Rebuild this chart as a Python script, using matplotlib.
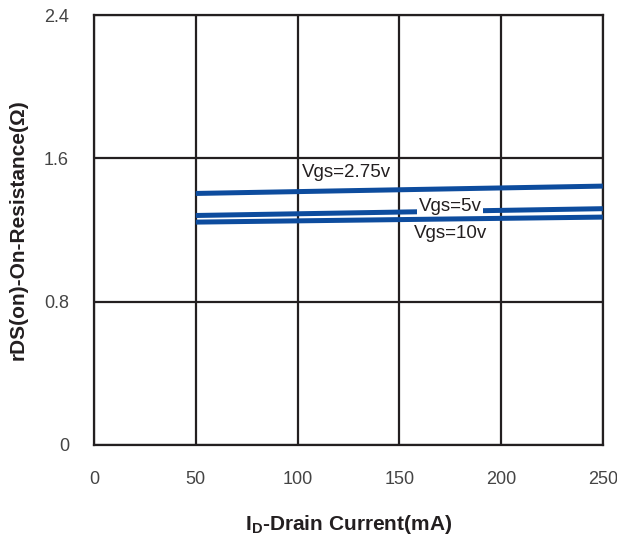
import matplotlib
matplotlib.use("Agg")
import matplotlib.pyplot as plt

plt.rcParams['font.family'] = ['Liberation Sans', 'DejaVu Sans']
plt.rcParams['mathtext.fontset'] = 'custom'
plt.rcParams['mathtext.rm'] = 'Liberation Sans'
plt.rcParams['mathtext.bf'] = 'Liberation Sans:bold'

current = [50, 250]
vgs_275 = [1.404, 1.445]
vgs_5 = [1.281, 1.319]
vgs_10 = [1.244, 1.272]
xticks = [0, 50, 100, 150, 200, 250]
yticks = [0, 0.8, 1.6, 2.4]
ytick_labels = ["0", "0.8", "1.6", "2.4"]

fig = plt.figure(figsize=(6.17, 5.36), dpi=100)
ax = fig.add_axes([0.1524, 0.1698, 0.8246, 0.8022])
ax.set_xlim(0, 250)
ax.set_ylim(0, 2.4)

blue = '#0d4c9e'
grid_c = '#231f20'
ax.plot(current, vgs_275, color=blue, lw=3.6, solid_capstyle='butt', zorder=3)
ax.plot(current, vgs_5, color=blue, lw=3.6, solid_capstyle='butt', zorder=3)
ax.plot(current, vgs_10, color=blue, lw=3.6, solid_capstyle='butt', zorder=5)

ax.text(124, 1.522, "Vgs=2.75v", fontsize=13.5, color='#231f20', ha='center', va='center', zorder=6)
ax.text(175, 1.331, "Vgs=5v", fontsize=13.5, color='#231f20', ha='center', va='center', zorder=4,
        bbox=dict(facecolor='white', edgecolor='none', pad=1.0))
ax.text(175, 1.18, "Vgs=10v", fontsize=13.5, color='#231f20', ha='center', va='center', zorder=6)

ax.set_xticks(xticks)
ax.set_yticks(yticks)
ax.set_yticklabels(ytick_labels)
ax.grid(True, color=grid_c, lw=1.6, zorder=1)
ax.set_axisbelow(True)
for s in ax.spines.values():
    s.set_color(grid_c)
    s.set_linewidth(1.6)
ax.tick_params(length=0, labelsize=13, labelcolor='#444444')
ax.tick_params(axis='x', pad=19)
ax.tick_params(axis='y', pad=18)

ax.set_xlabel(r"I$_\mathbf{D}$-Drain Current(mA)", fontsize=15, fontweight='bold', color='#231f20', labelpad=18)
ax.set_ylabel("rDS(on)-On-Resistance(Ω)", fontsize=15, fontweight='bold', color='#231f20', labelpad=12)

fig.savefig("out.png", dpi=100)
